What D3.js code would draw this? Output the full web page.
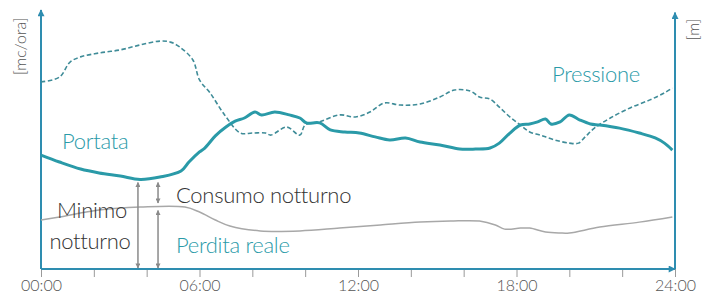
<!DOCTYPE html>
<html>
<head>
<meta charset="utf-8">
<script src="https://cdn.jsdelivr.net/npm/d3@7"></script>
<style>
  body { margin: 0; background: #fff; }
  svg text { font-family: Lato, "Open Sans", sans-serif; font-weight: 300; }
</style>
</head>
<body>
<svg id="chart"></svg>
<script>
// hours of the day on the x axis
const hourTicks = [0, 2, 4, 6, 8, 10, 12, 14, 16, 18, 20, 22, 24];
const hourLabels = ["00:00", "06:00", "12:00", "18:00", "24:00"];

// portata [mc/ora]
const portataHours = [0, 0.7, 1.5, 2.2, 3.0, 3.75, 4.5, 5.3, 5.6, 6.0, 6.2, 6.6, 7.0, 7.35, 7.7, 8.1, 8.35, 8.85, 9.4, 9.8, 10.05, 10.55, 10.95, 11.5, 12.05, 12.65, 13.2, 13.8, 14.35, 15.1, 15.85, 16.45, 17.0, 17.35, 17.75, 18.15, 18.5, 18.8, 19.1, 19.3, 19.65, 20.0, 20.4, 20.8, 21.15, 21.9, 22.65, 23.25, 23.6, 23.9];
const portataValues = [44.0, 41.3, 38.6, 37.1, 35.9, 34.6, 35.5, 37.8, 41.3, 45.2, 46.7, 51.4, 54.8, 57.1, 58.3, 60.6, 59.5, 60.6, 59.5, 58.3, 56.4, 56.4, 53.7, 52.9, 52.5, 51.0, 49.8, 50.6, 49.0, 47.9, 46.3, 46.3, 46.7, 48.6, 52.5, 55.6, 56.0, 56.8, 57.9, 56.0, 56.8, 59.5, 57.5, 56.0, 55.6, 54.4, 52.5, 50.6, 48.6, 45.9];

// pressione [m]
const pressioneHours = [0, 0.7, 1.1, 1.5, 2.2, 3.0, 3.75, 4.5, 4.9, 5.25, 5.75, 6.0, 6.4, 6.95, 7.55, 8.0, 8.5, 8.7, 9.3, 9.8, 10.0, 10.55, 11.3, 11.9, 12.45, 13.0, 13.6, 14.35, 15.1, 15.65, 16.25, 16.6, 17.0, 17.35, 17.75, 18.15, 18.5, 18.9, 19.45, 20.0, 20.35, 20.6, 20.95, 21.55, 22.3, 23.05, 23.6, 23.9];
const pressioneValues = [72.2, 74.1, 79.9, 81.9, 83.4, 84.6, 86.5, 88.0, 87.6, 85.7, 80.7, 73.0, 68.0, 59.5, 52.5, 52.5, 52.5, 51.7, 54.8, 51.7, 55.6, 56.8, 59.5, 58.7, 60.6, 64.1, 63.3, 63.7, 66.4, 69.1, 68.7, 66.4, 65.6, 62.5, 58.7, 55.6, 52.9, 51.7, 49.8, 48.6, 48.6, 51.0, 54.4, 58.3, 62.2, 65.3, 68.0, 69.9];

// livello del minimo notturno (linea grigia)
const minimoHours = [0, 0.7, 2.2, 3.75, 5.45, 6.0, 6.6, 7.15, 8.3, 9.8, 11.3, 12.85, 14.35, 15.5, 16.6, 17.2, 17.55, 18.15, 18.5, 19.1, 19.65, 20.0, 21.15, 22.65, 23.9];
const minimoValues = [18.9, 20.1, 22.8, 23.9, 23.9, 22.0, 18.9, 16.6, 14.7, 14.7, 15.8, 17.0, 18.1, 18.5, 18.5, 17.0, 15.4, 15.8, 15.8, 14.3, 13.9, 13.9, 16.2, 18.1, 20.1];

// frecce: minimo notturno, consumo notturno, perdita reale
const arrowHours = [3.67, 4.43, 4.43];
const arrowFrom = [0.4, 25.5, 0.4];
const arrowTo = [33.4, 33.4, 22.6];

const W = 707, H = 297;
const margin = {top: 10, right: 32, bottom: 28, left: 41};
const teal = "#2e8db0", lineTeal = "#2a9aa8", dashTeal = "#3f8c98", grey = "#555";

const svg = d3.select("#chart").attr("width", W).attr("height", H);

const x = d3.scaleLinear().domain([0, 24]).range([margin.left, W - margin.right]);
const y = d3.scaleLinear().domain([0, 100]).range([H - margin.bottom, margin.top]);
const yP = d3.scaleLinear().domain([0, 100]).range([H - margin.bottom, margin.top]);

const defs = svg.append("defs");
function marker(id, color, w, h) {
  defs.append("marker")
      .attr("id", id)
      .attr("viewBox", "0 0 10 10")
      .attr("refX", 9).attr("refY", 5)
      .attr("markerWidth", w).attr("markerHeight", h)
      .attr("markerUnits", "userSpaceOnUse")
      .attr("orient", "auto-start-reverse")
      .append("path")
      .attr("d", "M0,0L10,5L0,10Z")
      .attr("fill", color);
}
marker("axisHead", teal, 8, 7);
marker("greyHead", "#8a8a8a", 7, 5);

// ticks
svg.append("g")
    .attr("transform", "translate(0," + (H - margin.bottom) + ")")
    .call(d3.axisBottom(x).tickValues(hourTicks).tickSize(8).tickFormat(""))
    .call(g => g.select(".domain").remove())
    .call(g => g.selectAll("line").attr("stroke", "#9a9a9a").attr("stroke-width", 1));

svg.append("g")
    .attr("transform", "translate(0," + (H - margin.bottom) + ")")
    .call(d3.axisBottom(x).tickValues([0, 6, 12, 18, 24]).tickSize(0).tickPadding(11)
      .tickFormat((d, i) => hourLabels[i]))
    .call(g => g.select(".domain").remove())
    .call(g => g.selectAll("text").attr("font-size", 16).attr("fill", grey)
      .style("font-family", "Lato, sans-serif").style("font-weight", 300));

// axes lines with arrows
svg.append("line")
    .attr("x1", x(0)).attr("x2", x(0))
    .attr("y1", y(0)).attr("y2", y(100))
    .attr("stroke", teal).attr("stroke-width", 2)
    .attr("marker-end", "url(#axisHead)");
svg.append("line")
    .attr("x1", x(24)).attr("x2", x(24))
    .attr("y1", y(0)).attr("y2", yP(99))
    .attr("stroke", teal).attr("stroke-width", 2)
    .attr("marker-end", "url(#axisHead)");
svg.append("line")
    .attr("x1", x(0)).attr("x2", x(24))
    .attr("y1", y(0)).attr("y2", y(0))
    .attr("stroke", teal).attr("stroke-width", 2)
    .attr("marker-end", "url(#axisHead)");

// axis titles
svg.append("text")
    .attr("transform", "translate(26," + y(86) + ") rotate(-90)")
    .attr("text-anchor", "middle")
    .attr("font-size", 16).attr("fill", grey)
    .text("[mc/ora]");
svg.append("text")
    .attr("transform", "translate(699," + y(92.5) + ") rotate(-90)")
    .attr("text-anchor", "middle")
    .attr("font-size", 16).attr("fill", grey)
    .text("[m]");

// lines
const line = (xs, ys, scale) => d3.line()
    .x((d, i) => x(xs[i]))
    .y(d => scale(d))
    .curve(d3.curveCatmullRom.alpha(0.5));

svg.append("path")
    .datum(minimoValues)
    .attr("d", line(minimoHours, minimoValues, y))
    .attr("fill", "none")
    .attr("stroke", "#a8a8a8")
    .attr("stroke-width", 1.5);

svg.append("path")
    .datum(pressioneValues)
    .attr("d", line(pressioneHours, pressioneValues, yP))
    .attr("fill", "none")
    .attr("stroke", dashTeal)
    .attr("stroke-width", 1.6)
    .attr("stroke-dasharray", "4.5,2.5");

svg.append("path")
    .datum(portataValues)
    .attr("d", line(portataHours, portataValues, y))
    .attr("fill", "none")
    .attr("stroke", lineTeal)
    .attr("stroke-width", 3)
    .attr("stroke-linejoin", "round");

// double arrows
arrowHours.forEach((h, i) => {
  svg.append("line")
      .attr("x1", x(h)).attr("x2", x(h))
      .attr("y1", y(arrowFrom[i])).attr("y2", y(arrowTo[i]))
      .attr("stroke", "#8a8a8a").attr("stroke-width", 1.5)
      .attr("marker-start", "url(#greyHead)")
      .attr("marker-end", "url(#greyHead)");
});

// labels
const label = (txt, px, py, color, anchor) => svg.append("text")
    .attr("x", px).attr("y", py)
    .attr("text-anchor", anchor || "start")
    .attr("font-size", 22).attr("fill", color)
    .style("letter-spacing", "-0.3px")
    .text(txt);
label("Portata", 62, 149, lineTeal);
label("Pressione", 552, 82, lineTeal);
label("Consumo notturno", 176, 203, "#333");
label("Minimo", 92, 218, "#333", "middle");
label("notturno", 90, 249, "#333", "middle");
label("Perdita reale", 176, 253, lineTeal);
</script>
</body>
</html>
